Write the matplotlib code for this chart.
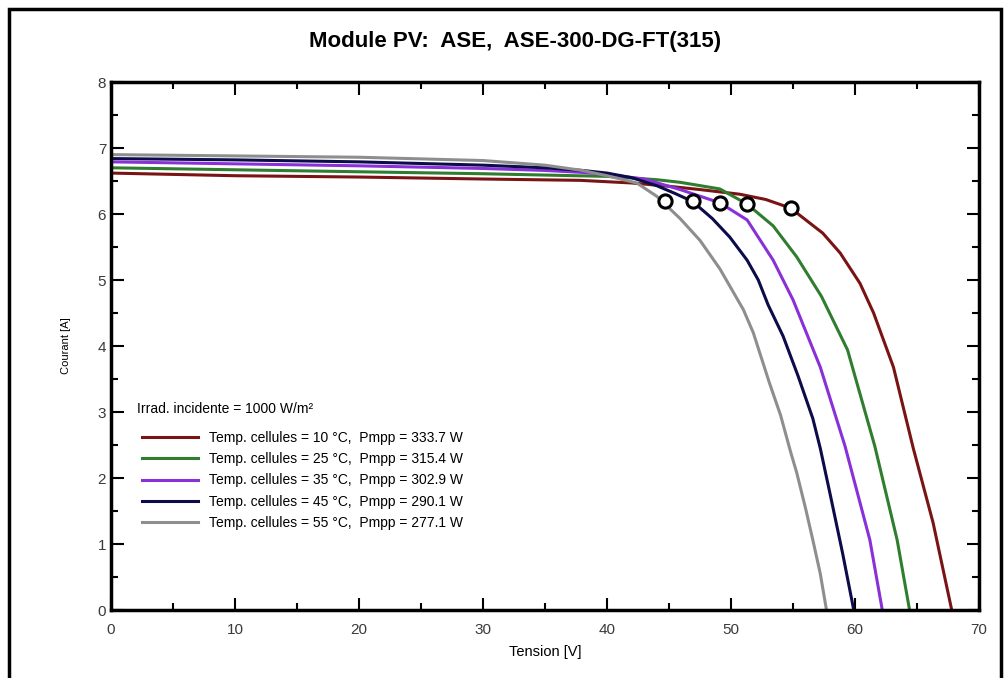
import matplotlib
matplotlib.use("Agg")
import matplotlib.pyplot as plt
from matplotlib.patches import Rectangle
from matplotlib.ticker import MultipleLocator

# I-V curves, one list pair per cell temperature
v10 = [0, 10, 20, 30, 37.8, 42, 45, 47.5, 50.7, 52.8, 54.8, 57.4, 58.8, 60.4, 61.5, 63.1, 64.7, 66.3, 67.8]
i10 = [6.62, 6.58, 6.56, 6.53, 6.51, 6.47, 6.42, 6.37, 6.30, 6.22, 6.09, 5.71, 5.41, 4.95, 4.50, 3.68, 2.45, 1.32, 0]

v25 = [0, 10, 20, 30, 40, 44, 45.9, 49.1, 51.3, 53.4, 55.3, 57.3, 59.4, 61.6, 63.4, 64.4]
i25 = [6.70, 6.67, 6.64, 6.61, 6.57, 6.52, 6.48, 6.38, 6.15, 5.82, 5.35, 4.75, 3.94, 2.48, 1.06, 0]

v35 = [0, 10, 20, 30, 35, 38, 40, 43, 45.9, 49.1, 51.3, 53.4, 55.0, 57.2, 59.2, 61.2, 62.2]
i35 = [6.79, 6.76, 6.73, 6.69, 6.66, 6.63, 6.60, 6.53, 6.37, 6.17, 5.91, 5.30, 4.70, 3.68, 2.48, 1.06, 0]

v45 = [0, 10, 20, 30, 35, 38, 40, 42, 44, 45.5, 46.9, 48.5, 49.9, 51.3, 52.2, 53.0, 54.2, 55.4, 56.6, 57.2, 58.0, 59.0, 59.9]
i45 = [6.84, 6.82, 6.79, 6.74, 6.70, 6.66, 6.62, 6.55, 6.43, 6.31, 6.19, 5.93, 5.65, 5.30, 5.00, 4.62, 4.15, 3.55, 2.90, 2.45, 1.75, 0.86, 0]

v55 = [0, 10, 20, 30, 35, 38, 40, 42.4, 44.0, 45.9, 47.5, 49.1, 51.0, 51.8, 53.1, 54.0, 54.8, 55.3, 56.0, 56.6, 57.2, 57.7]
i55 = [6.90, 6.88, 6.86, 6.81, 6.74, 6.66, 6.58, 6.47, 6.27, 5.93, 5.60, 5.17, 4.55, 4.20, 3.44, 2.95, 2.40, 2.08, 1.55, 1.06, 0.55, 0]

# maximum power points
v_mpp = [54.8, 51.3, 49.1, 46.9, 44.7]
i_mpp = [6.09, 6.15, 6.17, 6.19, 6.20]

labels = ["Temp. cellules = 10 \u00b0C,  Pmpp = 333.7 W",
          "Temp. cellules = 25 \u00b0C,  Pmpp = 315.4 W",
          "Temp. cellules = 35 \u00b0C,  Pmpp = 302.9 W",
          "Temp. cellules = 45 \u00b0C,  Pmpp = 290.1 W",
          "Temp. cellules = 55 \u00b0C,  Pmpp = 277.1 W"]
colors = ["#7a1414", "#2f7d2f", "#8a30d8", "#0c0c4a", "#8e8e8e"]

plt.rcParams['font.family'] = ['Liberation Sans', 'DejaVu Sans']

fig = plt.figure(figsize=(10.08, 6.78), dpi=100)
W, H = 1008, 678
ax = fig.add_axes([111 / W, 1 - 610 / H, 868 / W, 528 / H])

# outer frame of the window
fig.patches.append(Rectangle((9 / W, -0.05), 992 / W, 1.05 - 9 / H, transform=fig.transFigure,
                             fill=False, edgecolor="black", linewidth=2.5))

curves = [(v10, i10), (v25, i25), (v35, i35), (v45, i45), (v55, i55)]
for (v, i), c, lab in zip(curves, colors, labels):
  ax.plot(v, i, color=c, linewidth=2.2, label=lab)

ax.plot(v_mpp, i_mpp, linestyle="none", marker="o", markersize=9.5, markerfacecolor="white",
        markeredgecolor="black", markeredgewidth=2.2, zorder=5)

ax.set_xlim(0, 70)
ax.set_ylim(0, 8)
ax.xaxis.set_major_locator(MultipleLocator(10))
ax.xaxis.set_minor_locator(MultipleLocator(5))
ax.yaxis.set_major_locator(MultipleLocator(1))
ax.yaxis.set_minor_locator(MultipleLocator(0.5))
ax.tick_params(which="both", direction="in", top=True, right=True, width=1.5, labelsize=11,
               labelcolor="#3a3a3a")
ax.tick_params(axis="x", which="major", pad=9)
ax.tick_params(which="major", length=9)
ax.tick_params(which="minor", length=5)
for sp in ax.spines.values():
  sp.set_linewidth(2.5)

ax.set_xlabel("Tension [V]", fontsize=10.5, labelpad=6)
ax.set_ylabel("Courant [A]", fontsize=8, labelpad=19)
fig.text(515 / W, 1 - 41 / H, "Module PV:  ASE,  ASE-300-DG-FT(315)", ha="center", va="center",
         fontsize=16, fontweight="bold")

ax.text(0.030, 0.381, "Irrad. incidente = 1000 W/m\u00b2", transform=ax.transAxes,
        ha="left", va="center", fontsize=10)
leg = ax.legend(loc="upper left", bbox_to_anchor=(0.025, 0.358), frameon=False, fontsize=10,
                handlelength=4.0, handletextpad=0.8, labelspacing=0.53, borderpad=0.2)

fig.savefig("out.png", dpi=100)
